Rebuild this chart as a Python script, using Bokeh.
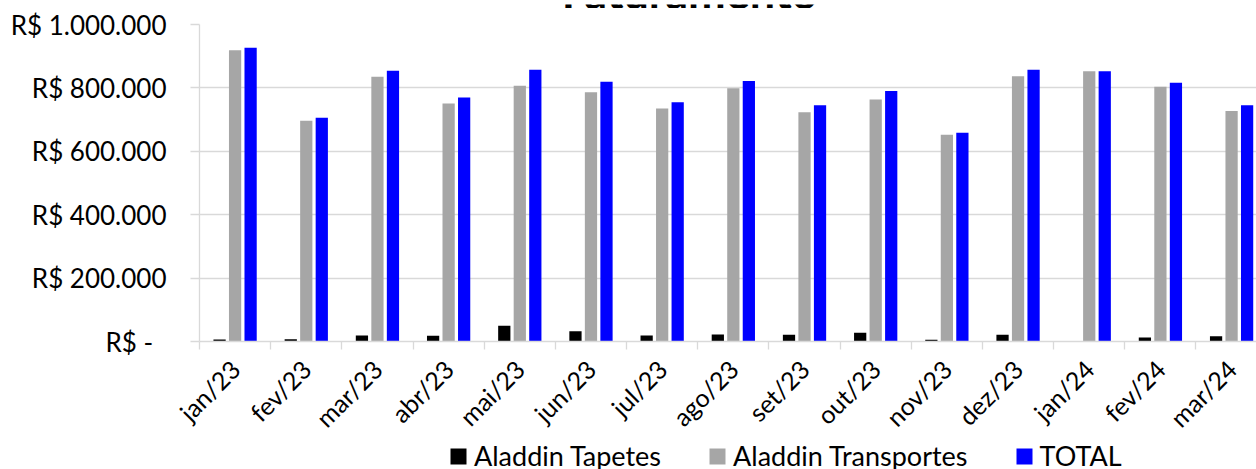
import math
from bokeh.plotting import figure
from bokeh.layouts import column
from bokeh.models import (Range1d, FixedTicker, Legend, LegendItem, Label,
                          ColumnDataSource)
from bokeh.transform import dodge
from bokeh.embed import file_html
from bokeh.resources import INLINE

# ---------------- data ----------------
months = ["jan/23", "fev/23", "mar/23", "abr/23", "mai/23", "jun/23", "jul/23",
          "ago/23", "set/23", "out/23", "nov/23", "dez/23", "jan/24", "fev/24",
          "mar/24"]
tapetes = [6300, 7300, 18900, 17800, 49300, 32500, 18900, 22000, 21000, 27300,
           5200, 21000, 0, 12600, 16800]
transportes = [919000, 696000, 835400, 750500, 807100, 786200, 734800, 798700,
               723300, 763100, 652000, 836500, 852200, 804000, 727500]
total = [926600, 705500, 854300, 769400, 857400, 819700, 754700, 821800,
         745300, 790400, 658300, 857400, 852200, 816600, 745300]
series_names = ["Aladdin Tapetes", "Aladdin Transportes", "TOTAL"]
y_ticks = [0, 200000, 400000, 600000, 800000, 1000000]
y_tick_labels = ["R$ -\u00a0\u00a0", "R$ 200.000", "R$ 400.000", "R$ 600.000",
                 "R$ 800.000", "R$ 1.000.000"]
title_text = "Faturamento"

# ---------------- styling ----------------
FONT = "Lato"
FS = "25px"
GRID = "#D9D9D9"
colors = ["#000000", "#A6A6A6", "#0000FF"]
W = 1256
H_TITLE, H_MAIN = 8, 438

n = len(months)
pos = [i + 0.5 for i in range(n)]
src = ColumnDataSource(dict(x=pos, tapetes=tapetes, transportes=transportes,
                            total=total))
fields = ["tapetes", "transportes", "total"]

# ---------- title strip (only the title's lower edge shows, as in the reference)
tf = figure(width=W, height=H_TITLE, output_backend="svg", toolbar_location=None,
            x_axis_type=None, y_axis_type=None, min_border=0,
            x_range=Range1d(0, 1), y_range=Range1d(0, 1))
tf.outline_line_color = None
tf.grid.visible = False
tf.add_layout(Label(x=490, y=20.5, x_units="screen", y_units="screen",
                    text=title_text, text_font=FONT, text_font_size="45px",
                    text_font_style="bold", text_align="center",
                    text_baseline="alphabetic", text_color="black"))

# ---------- main chart ----------
p = figure(width=W, height=H_MAIN, output_backend="svg", toolbar_location=None,
           x_range=Range1d(0, 14.85), y_range=Range1d(0, 1000000),
           min_border_left=199, min_border_right=0, min_border_top=16,
           min_border_bottom=104)
p.outline_line_color = None
p.background_fill_color = "white"
p.border_fill_color = "white"

bw = 0.172
off = 0.218
offsets = [-off, 0.0, off]
for f, o, c in zip(fields, offsets, colors):
    p.vbar(x=dodge("x", o), top=f, width=bw, source=src,
           fill_color=c, line_color=None)

p.xgrid.grid_line_color = None
p.ygrid.grid_line_color = GRID
p.ygrid.grid_line_width = 1.3
p.ygrid.ticker = FixedTicker(ticks=y_ticks)

xa = p.xaxis[0]
xa.ticker = FixedTicker(ticks=pos, minor_ticks=list(range(n + 1)))
xa.major_label_overrides = {pos[i]: months[i] for i in range(n)}
xa.axis_line_color = GRID
xa.axis_line_width = 1.3
xa.major_tick_line_color = None
xa.major_tick_out = 0
xa.major_tick_in = 0
xa.minor_tick_line_color = GRID
xa.minor_tick_line_width = 1.3
xa.minor_tick_out = 8
xa.minor_tick_in = 0
xa.major_label_orientation = math.pi / 4
xa.major_label_standoff = 15
xa.major_label_text_font = FONT
xa.major_label_text_font_size = FS
xa.major_label_text_line_height = 1.0
xa.major_label_text_color = "black"

ya = p.yaxis[0]
ya.ticker = FixedTicker(ticks=y_ticks)
ya.major_label_overrides = {y_ticks[i]: y_tick_labels[i] for i in range(len(y_ticks))}
ya.axis_line_color = GRID
ya.axis_line_width = 1.3
ya.major_tick_line_color = GRID
ya.major_tick_line_width = 1.3
ya.major_tick_out = 9
ya.major_tick_in = 0
ya.minor_tick_line_color = None
ya.major_label_standoff = 24
ya.major_label_text_font = FONT
ya.major_label_text_font_size = "26px"
ya.major_label_text_color = "black"

# ---------- legend strip ----------
lf = figure(width=W, height=469 - H_TITLE - H_MAIN, output_backend="svg",
            toolbar_location=None, x_axis_type=None, y_axis_type=None,
            min_border=0, x_range=Range1d(-10, -9), y_range=Range1d(0, 1))
lf.outline_line_color = None
lf.grid.visible = False
lr = [lf.vbar(x="x", top=f, width=bw, source=src, fill_color=c,
              line_color=None)
      for f, c in zip(fields, colors)]
legend = Legend(items=[LegendItem(label=series_names[i], renderers=[lr[i]])
                       for i in range(3)],
                orientation="horizontal", location=(249, -3),
                glyph_width=20, glyph_height=20, label_standoff=6, spacing=46,
                padding=0, margin=0, border_line_color=None,
                background_fill_alpha=0, label_text_font=FONT,
                label_text_font_size="27px", label_text_color="black")
lf.add_layout(legend)

layout = column(tf, p, lf, spacing=0)
open("out.html", "w").write(file_html(layout, INLINE))
